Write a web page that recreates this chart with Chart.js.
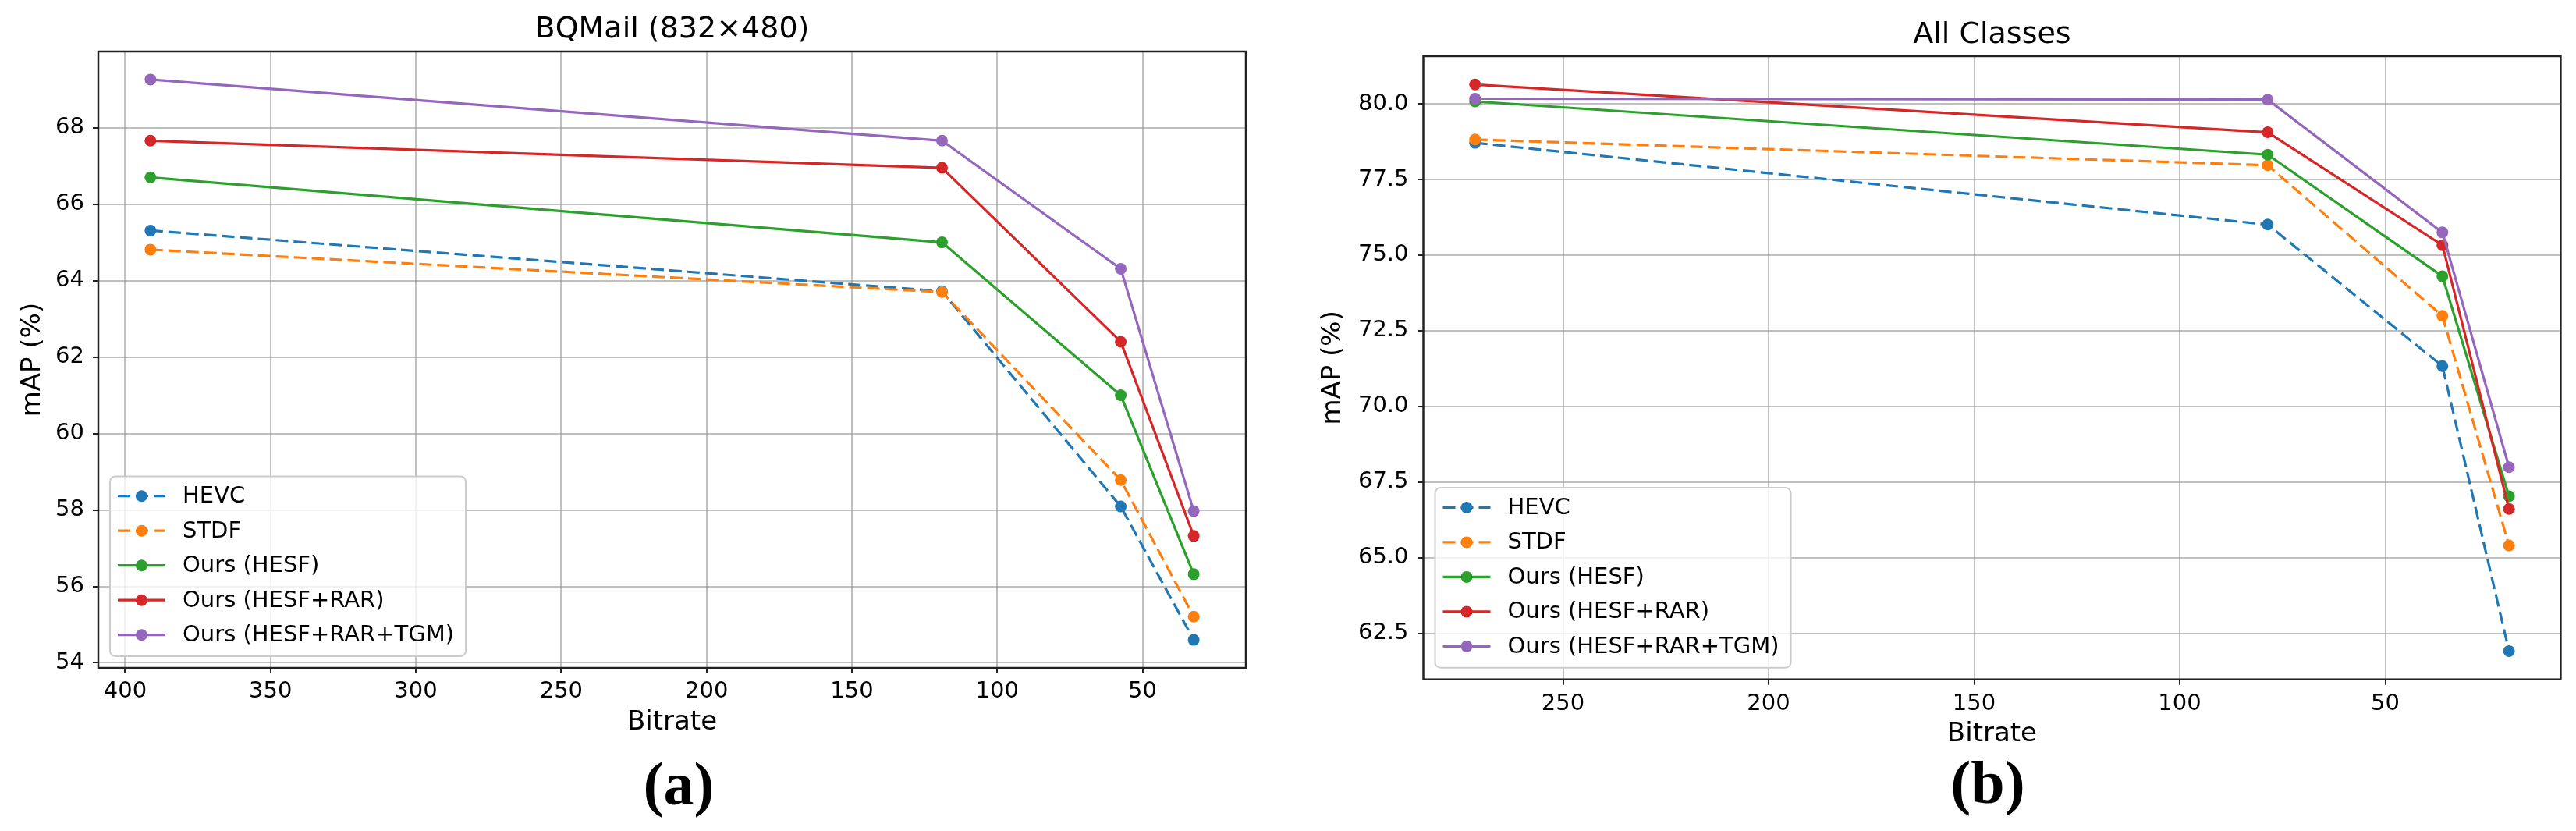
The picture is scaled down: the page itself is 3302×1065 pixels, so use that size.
<!DOCTYPE html>
<html>
<head>
<meta charset="utf-8">
<script src="https://cdn.jsdelivr.net/npm/chart.js@4.4.1/dist/chart.umd.min.js"></script>
<style>
  body { margin: 0; background: #fff; width: 3302px; height: 1065px; position: relative; overflow: hidden; }
  canvas { position: absolute; top: 0; }
  .panel { position: absolute; transform: translate(-50%, -50%); font-family: "Liberation Serif", serif; font-weight: bold; font-size: 78px; line-height: 1; color: #000; }
</style>
</head>
<body>
<canvas id="chartA" width="1650" height="980" style="left:0;width:1650px;height:980px"></canvas>
<canvas id="chartB" width="1652" height="995" style="left:1650px;width:1652px;height:995px"></canvas>
<div class="panel" style="left:870px;top:1005px">(a)</div>
<div class="panel" style="left:2548px;top:1003px">(b)</div>
<script>
const seriesNames = ["HEVC", "STDF", "Ours (HESF)", "Ours (HESF+RAR)", "Ours (HESF+RAR+TGM)"];
const seriesColors = ["#1f77b4", "#ff7f0e", "#2ca02c", "#d62728", "#9467bd"];
const seriesDashed = [true, true, false, false, false];

// (a) BQMail
const bitrateA = [391.3, 119.0, 57.5, 32.4];
const hevcA = [65.31, 63.72, 58.09, 54.60];
const stdfA = [64.81, 63.70, 58.78, 55.21];
const hesfA = [66.70, 65.00, 61.00, 56.32];
const hesfRarA = [67.66, 66.95, 62.40, 57.32];
const hesfRarTgmA = [69.26, 67.66, 64.31, 57.97];

// (b) All Classes
const bitrateB = [271.4, 78.6, 36.1, 19.9];
const hevcB = [78.71, 76.01, 71.33, 61.91];
const stdfB = [78.82, 77.97, 72.99, 65.40];
const hesfB = [80.08, 78.32, 74.30, 67.03];
const hesfRarB = [80.64, 79.06, 75.33, 66.61];
const hesfRarTgmB = [80.17, 80.14, 75.75, 67.99];

const FONT = "'DejaVu Sans', sans-serif";
const MARKER = 7.5;
Chart.defaults.font.family = FONT;
Chart.defaults.color = "#000";

// axes frame + matplotlib style legend in lower left
const mplFrame = {
  id: "mplFrame",
  afterDatasetsDraw(chart) {
    const ctx = chart.ctx, a = chart.chartArea;
    ctx.save();
    ctx.strokeStyle = "#222";
    ctx.lineWidth = 2.5;
    ctx.strokeRect(a.left, a.top, a.right - a.left, a.bottom - a.top);

    const ds = chart.data.datasets;
    ctx.font = "29px " + FONT;
    const textW = Math.max(...ds.map(d => ctx.measureText(d.label).width));
    const rowH = 44.5;
    const boxW = 93 + textW + 15;
    const boxH = 25.3 + rowH * (ds.length - 1) + 27.3;
    const bx = a.left + 15, by = a.bottom - 15 - boxH;
    ctx.beginPath();
    ctx.roundRect(bx, by, boxW, boxH, 7);
    ctx.fillStyle = "rgba(255,255,255,0.8)";
    ctx.fill();
    ctx.strokeStyle = "#cccccc";
    ctx.lineWidth = 2;
    ctx.stroke();

    ds.forEach((d, i) => {
      const cy = by + 25.3 + i * rowH;
      ctx.strokeStyle = d.borderColor;
      ctx.lineWidth = d.borderWidth;
      ctx.setLineDash(d.borderDash || []);
      ctx.beginPath();
      ctx.moveTo(bx + 10, cy);
      ctx.lineTo(bx + 71, cy);
      ctx.stroke();
      ctx.setLineDash([]);
      ctx.beginPath();
      ctx.arc(bx + 40.5, cy, MARKER, 0, Math.PI * 2);
      ctx.fillStyle = d.borderColor;
      ctx.fill();
      ctx.fillStyle = "#000";
      ctx.textBaseline = "middle";
      ctx.textAlign = "left";
      ctx.fillText(d.label, bx + 93, cy + 1);
    });
    ctx.restore();
  }
};

function makeDatasets(xs, series) {
  return series.map((ys, i) => ({
    label: seriesNames[i],
    data: xs.map((x, k) => ({ x: x, y: ys[k] })),
    borderColor: seriesColors[i],
    backgroundColor: seriesColors[i],
    pointBackgroundColor: seriesColors[i],
    pointBorderColor: seriesColors[i],
    borderWidth: 3.2,
    borderDash: seriesDashed[i] ? [16, 7] : [],
    pointRadius: MARKER,
    pointBorderWidth: 0,
    tension: 0,
    order: series.length - i
  }));
}

function limits(values) {
  const lo = Math.min(...values), hi = Math.max(...values);
  const m = (hi - lo) * 0.05;
  return [lo - m, hi + m];
}

function makeChart(id, cfg) {
  const [xmin, xmax] = limits(cfg.xs);
  const [ymin, ymax] = limits(cfg.series.flat());
  const grid = { color: "rgba(150,150,150,0.6)", lineWidth: 2, tickLength: 7, tickColor: "#222", tickWidth: 2 };
  return new Chart(document.getElementById(id), {
    type: "line",
    data: { datasets: makeDatasets(cfg.xs, cfg.series) },
    options: {
      responsive: false,
      animation: false,
      devicePixelRatio: 1,
      layout: { padding: { left: 0, right: cfg.padRight, top: 0, bottom: 0 } },
      plugins: {
        legend: { display: false },
        tooltip: { enabled: false },
        title: {
          display: true,
          text: cfg.title,
          fullSize: false,
          color: "#000",
          font: { size: 38, weight: "normal", family: FONT },
          padding: { top: cfg.titleTop, bottom: cfg.titleBottom }
        }
      },
      scales: {
        x: {
          type: "linear",
          reverse: true,
          min: xmin,
          max: xmax,
          border: { display: false },
          grid: grid,
          ticks: { stepSize: 50, includeBounds: false, padding: cfg.xTickPad, font: { size: 29 }, color: "#000" },
          title: { display: true, text: "Bitrate", font: { size: 34 }, color: "#000", padding: { top: 0, bottom: 33.6 } },
          afterFit: s => { s.height = cfg.xHeight; }
        },
        y: {
          min: ymin,
          max: ymax,
          border: { display: false },
          grid: grid,
          ticks: {
            stepSize: cfg.yStep,
            includeBounds: false,
            padding: cfg.yTickPad,
            font: { size: 29 },
            color: "#000",
            callback: v => cfg.yStep % 1 ? v.toFixed(1) : v.toFixed(0)
          },
          title: { display: true, text: "mAP (%)", font: { size: 34 }, color: "#000", padding: { top: cfg.yTitleTop, bottom: 0 } },
          afterFit: s => { s.width = cfg.yWidth; }
        }
      }
    },
    plugins: [mplFrame]
  });
}

makeChart("chartA", {
  title: "BQMail (832×480)",
  xs: bitrateA,
  series: [hevcA, stdfA, hesfA, hesfRarA, hesfRarTgmA],
  yStep: 2,
  padRight: 53,
  titleTop: 15.5,
  titleBottom: 4.9,
  yWidth: 126,
  yTitleTop: 21.6,
  yTickPad: 11,
  xHeight: 124,
  xTickPad: 6
});

makeChart("chartB", {
  title: "All Classes",
  xs: bitrateB,
  series: [hevcB, stdfB, hesfB, hesfRarB, hesfRarTgmB],
  yStep: 2.5,
  padRight: 19.6,
  titleTop: 22.2,
  titleBottom: 4.2,
  yWidth: 174.5,
  yTitleTop: 38.6,
  yTickPad: 12,
  xHeight: 124.3,
  xTickPad: 7
});
</script>
</body>
</html>
